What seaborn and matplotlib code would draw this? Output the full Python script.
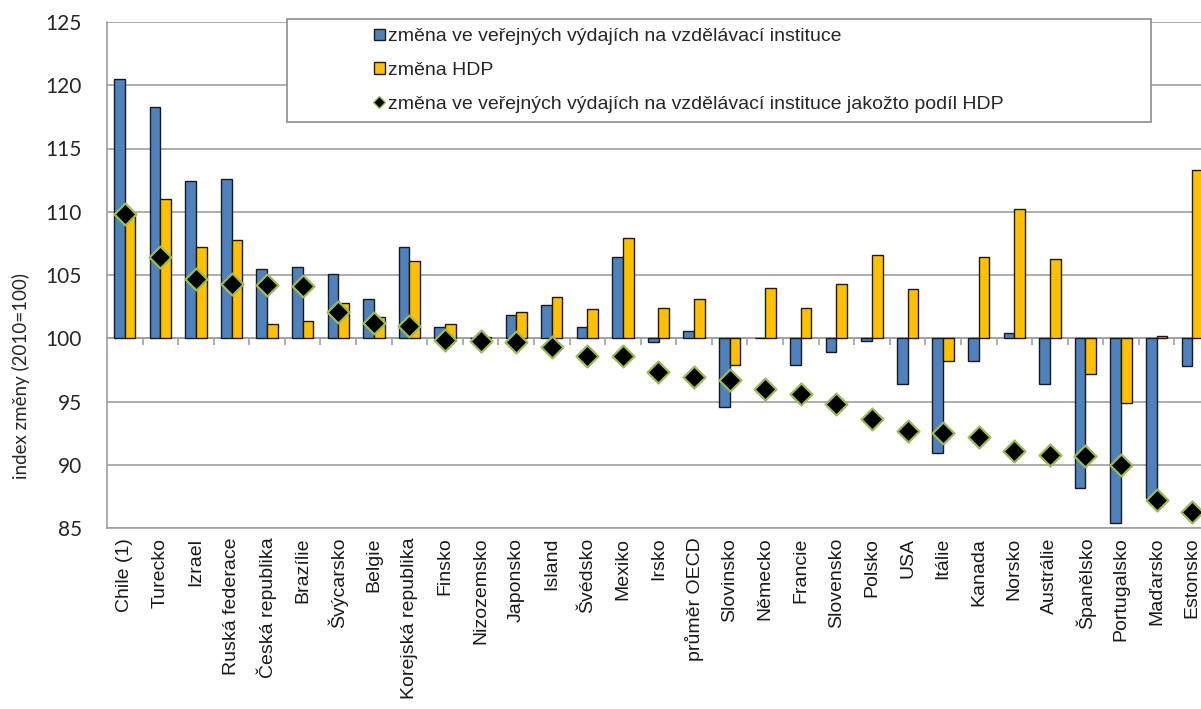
import numpy as np
import pandas as pd
import matplotlib
matplotlib.use("Agg")
import matplotlib.pyplot as plt
from matplotlib.patches import Patch, Rectangle
from matplotlib.lines import Line2D
from matplotlib.ticker import FuncFormatter, MultipleLocator
import seaborn as sns

zeme = ["Chile (1)", "Turecko", "Izrael", "Ruská federace", "Česká republika",
        "Brazílie", "Švýcarsko", "Belgie", "Korejská republika", "Finsko",
        "Nizozemsko", "Japonsko", "Island", "Švédsko", "Mexiko", "Irsko",
        "průměr OECD", "Slovinsko", "Německo", "Francie", "Slovensko", "Polsko",
        "USA", "Itálie", "Kanada", "Norsko", "Austrálie", "Španělsko",
        "Portugalsko", "Maďarsko", "Estonsko"]

# index zmeny (2010=100)
vydaje = [120.5, 118.3, 112.4, 112.6, 105.5, 105.6, 105.1, 103.1, 107.2, 100.9,
          100.0, 101.8, 102.6, 100.9, 106.4, 99.7, 100.6, 94.6, 100.0, 97.9,
          98.9, 99.8, 96.4, 90.9, 98.2, 100.4, 96.4, 88.2, 85.4, 87.4, 97.8]
hdp = [109.7, 111.0, 107.2, 107.8, 101.1, 101.4, 102.8, 101.7, 106.1, 101.1,
       100.1, 102.1, 103.3, 102.3, 107.9, 102.4, 103.1, 97.9, 104.0, 102.4,
       104.3, 106.6, 103.9, 98.2, 106.4, 110.2, 106.3, 97.2, 94.9, 100.2, 113.3]
podil = [109.8, 106.4, 104.7, 104.3, 104.2, 104.1, 102.1, 101.2, 101.0, 99.9,
         99.8, 99.7, 99.3, 98.6, 98.6, 97.3, 96.9, 96.7, 96.0, 95.6,
         94.8, 93.6, 92.7, 92.5, 92.2, 91.1, 90.8, 90.7, 90.0, 87.2, 86.3]

lbl_vyd = "změna ve veřejných výdajích na vzdělávací instituce"
lbl_hdp = "změna HDP"
lbl_pod = "změna ve veřejných výdajích na vzdělávací instituce jakožto podíl HDP"

base = 100
modra = "#4F81BD"
zluta = "#FFC000"
zelena = "#9BBB59"
seda = "#A0A0A0"

df = pd.DataFrame({
    "zeme": zeme * 2,
    "rada": [lbl_vyd] * len(zeme) + [lbl_hdp] * len(zeme),
    "hodnota": vydaje + hdp,
})
df["delta"] = df["hodnota"] - base

sns.set_style("white")
plt.rcParams["font.family"] = ["Liberation Sans", "DejaVu Sans"]

fig = plt.figure(figsize=(12.01, 7.09), dpi=100)
ax = fig.add_axes([107 / 1201, 1 - 528 / 709, 1103 / 1201, 506 / 709])

sns.barplot(data=df, x="zeme", y="delta", hue="rada", palette=[modra, zluta],
            saturation=1, width=0.6, edgecolor="#1a1a1a", linewidth=1, ax=ax,
            legend=False, zorder=2)
sns.scatterplot(x=np.arange(len(zeme)), y=np.array(podil) - base, marker="D",
                s=125, color="black", edgecolor=zelena, linewidth=1.6,
                ax=ax, zorder=4, legend=False)

ax.set_xlim(-0.5, len(zeme) - 0.5)
ax.set_ylim(85 - base, 125 - base)
ax.yaxis.set_major_locator(MultipleLocator(5))
ax.yaxis.set_major_formatter(FuncFormatter(lambda v, p: f"{v + base:.0f}"))
ax.grid(axis="y", color=seda, linewidth=1.2, zorder=0)
ax.set_axisbelow(True)

for s in ["top", "right"]:
    ax.spines[s].set_visible(False)
ax.spines["left"].set_color(seda)
ax.spines["left"].set_linewidth(1.2)
ax.spines["bottom"].set_color(seda)
ax.spines["bottom"].set_linewidth(1.2)

ax.tick_params(axis="y", length=6, width=1.2, color=seda, pad=12,
               labelsize=15, labelcolor="#262626")
for t in ax.get_yticklabels():
    t.set_family("Lato")
ax.tick_params(axis="x", length=0, pad=7, labelsize=14, labelcolor="#1a1a1a")
ax.set_xticks(range(len(zeme)))
ax.set_xticklabels(zeme, rotation=90, va="top", ha="center")
ax.set_xlabel("")
ax.set_ylabel("index změny (2010=100)", fontsize=13.5, family="Lato",
              color="#262626")
ax.yaxis.set_label_coords(-0.07, 0.3)

# osa x protina hodnotu 100
osa = ax.secondary_xaxis((100 - 85) / 40)
osa.set_xticks(np.arange(len(zeme)) + 0.5)
osa.tick_params(axis="x", direction="out", length=5, width=1.2, color=seda,
                labelbottom=False, labeltop=False, bottom=True, top=False)
osa.spines["bottom"].set_color(seda)
osa.spines["bottom"].set_linewidth(1.2)
osa.spines["top"].set_visible(False)

# legenda
box = Rectangle((287 / 1201, 1 - 122 / 709), 864 / 1201, 103 / 709,
                transform=fig.transFigure, facecolor="white", edgecolor="#8c8c8c",
                linewidth=1.2, zorder=5)
fig.add_artist(box)
handles = [
    Patch(facecolor=modra, edgecolor="#1a1a1a", linewidth=1),
    Patch(facecolor=zluta, edgecolor="#1a1a1a", linewidth=1),
    Line2D([], [], linestyle="none", marker="D", markersize=6,
           markerfacecolor="black", markeredgecolor=zelena, markeredgewidth=1),
]
leg = fig.legend(handles, [lbl_vyd, lbl_hdp, lbl_pod], loc="center left",
                 bbox_to_anchor=(374 / 1201, 1 - 70.5 / 709), frameon=False,
                 fontsize=14, handlelength=0.55, handleheight=0.55,
                 handletextpad=0.15, labelspacing=0.85, borderpad=0,
                 borderaxespad=0)
leg.set_zorder(6)
for t in leg.get_texts():
    t.set_color("#262626")

fig.savefig("out.png", dpi=100)
